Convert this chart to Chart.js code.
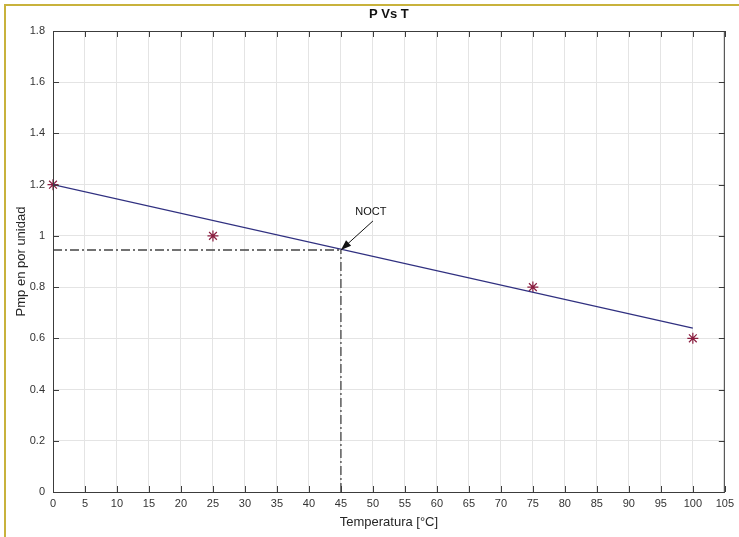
<!DOCTYPE html>
<html>
<head>
<meta charset="utf-8">
<style>
    html, body { margin: 0; padding: 0; background: #fff; }
    canvas { display: block; }
</style>
<script src="https://cdn.jsdelivr.net/npm/chart.js@4/dist/chart.umd.min.js"></script>
</head>
<body>
<canvas id="pvt" width="739" height="537"></canvas>
<script>
// Measured points (temperature, Pmp p.u.)
const tempPoints = [0, 25, 75, 100];
const pmpPoints = [1.2, 1.0, 0.8, 0.6];

// Fitted line end points
const fitTemp = [0, 100];
const fitPmp = [1.2, 0.64];

// NOCT marker
const noctTemp = 45;
const noctPmp = 0.945;

// Axis ticks
const xTicks = [0, 5, 10, 15, 20, 25, 30, 35, 40, 45, 50, 55, 60, 65, 70, 75, 80, 85, 90, 95, 100, 105];
const yTicks = [0, 0.2, 0.4, 0.6, 0.8, 1, 1.2, 1.4, 1.6, 1.8];

const FONT = '"Liberation Sans", Arial, sans-serif';

function toXY(xs, ys) {
    return xs.map((x, i) => ({ x: x, y: ys[i] }));
}

// Box, inward ticks, titles, NOCT arrow
const decorPlugin = {
    id: 'decor',
    afterDatasetsDraw(chart) {
        const ctx = chart.ctx;
        const a = chart.chartArea;
        const xs = chart.scales.x;
        const ys = chart.scales.y;
        ctx.save();

        // axes box
        ctx.strokeStyle = '#3c3c3c';
        ctx.lineWidth = 1;
        ctx.strokeRect(a.left + 0.5, a.top + 0.5, a.right - a.left - 1, a.bottom - a.top);

        // inward ticks
        ctx.beginPath();
        xTicks.forEach(t => {
            const px = Math.round(xs.getPixelForValue(t)) + 0.5;
            ctx.moveTo(px, a.bottom); ctx.lineTo(px, a.bottom - 6);
            ctx.moveTo(px, a.top); ctx.lineTo(px, a.top + 6);
        });
        yTicks.forEach(t => {
            const py = Math.round(ys.getPixelForValue(t)) + 0.5;
            ctx.moveTo(a.left, py); ctx.lineTo(a.left + 6, py);
            ctx.moveTo(a.right, py); ctx.lineTo(a.right - 6, py);
        });
        ctx.stroke();

        // NOCT label and arrow
        const tx = xs.getPixelForValue(noctTemp);
        const ty = ys.getPixelForValue(noctPmp);
        ctx.fillStyle = '#111';
        ctx.font = '11px ' + FONT;
        ctx.textAlign = 'center';
        ctx.textBaseline = 'middle';
        ctx.fillText('NOCT', tx + 30, ty - 38);

        const sx = tx + 32, sy = ty - 29;
        const ang = Math.atan2(ty - sy, tx - sx);
        ctx.strokeStyle = '#111';
        ctx.beginPath();
        ctx.moveTo(sx, sy);
        ctx.lineTo(tx, ty);
        ctx.stroke();
        ctx.beginPath();
        ctx.moveTo(tx, ty);
        ctx.lineTo(tx - 11 * Math.cos(ang - 0.35), ty - 11 * Math.sin(ang - 0.35));
        ctx.lineTo(tx - 11 * Math.cos(ang + 0.35), ty - 11 * Math.sin(ang + 0.35));
        ctx.closePath();
        ctx.fill();

        // title
        const cx = (a.left + a.right) / 2;
        ctx.font = 'bold 13px ' + FONT;
        ctx.fillText('P Vs T', cx, 14);

        // axis titles
        ctx.font = '13px ' + FONT;
        ctx.fillStyle = '#262626';
        ctx.fillText('Temperatura [\u00b0C]', cx, 522);
        ctx.translate(21, (a.top + a.bottom) / 2);
        ctx.rotate(-Math.PI / 2);
        ctx.fillText('Pmp en por unidad', 0, 0);
        ctx.restore();

        // page border (top and left)
        ctx.save();
        ctx.strokeStyle = '#c8b23c';
        ctx.lineWidth = 2;
        ctx.beginPath();
        ctx.moveTo(5, 537);
        ctx.lineTo(5, 5);
        ctx.lineTo(739, 5);
        ctx.stroke();
        ctx.restore();
    }
};

const ctx = document.getElementById('pvt').getContext('2d');
const chart = new Chart(ctx, {
    type: 'scatter',
    data: {
        datasets: [{
            label: 'horizontal',
            data: [{ x: 0, y: noctPmp }, { x: noctTemp, y: noctPmp }],
            showLine: true,
            borderColor: '#444',
            borderWidth: 1.3,
            borderDash: [9, 3, 2, 3],
            pointRadius: 0
        }, {
            label: 'vertical',
            data: [{ x: noctTemp, y: 0 }, { x: noctTemp, y: noctPmp }],
            showLine: true,
            borderColor: '#444',
            borderWidth: 1.3,
            borderDash: [9, 3, 2, 3],
            pointRadius: 0
        }, {
            label: 'fit',
            data: toXY(fitTemp, fitPmp),
            showLine: true,
            borderColor: '#303080',
            borderWidth: 1.2,
            pointRadius: 0
        }, {
            label: 'measured',
            data: toXY(tempPoints, pmpPoints),
            showLine: false,
            clip: false,
            pointStyle: 'star',
            pointRadius: 5.5,
            borderColor: '#8a1e40',
            backgroundColor: '#8a1e40',
            borderWidth: 1.2
        }]
    },
    options: {
        responsive: false,
        animation: false,
        layout: {
            padding: { left: 0, right: 11, top: 31, bottom: 0 }
        },
        plugins: {
            legend: { display: false },
            title: { display: false },
            tooltip: { enabled: false }
        },
        scales: {
            x: {
                type: 'linear',
                min: 0,
                max: 105,
                afterBuildTicks: s => { s.ticks = xTicks.map(v => ({ value: v })); },
                afterFit: s => { s.height = 45; },
                grid: { color: '#e4e4e4', drawTicks: false },
                border: { display: false },
                ticks: {
                    padding: 5,
                    color: '#333',
                    font: { family: FONT, size: 11 },
                    maxRotation: 0,
                    autoSkip: false
                }
            },
            y: {
                min: 0,
                max: 1.8,
                afterBuildTicks: s => { s.ticks = yTicks.map(v => ({ value: v })); },
                afterFit: s => { s.width = 53; },
                grid: { color: '#e4e4e4', drawTicks: false },
                border: { display: false },
                ticks: {
                    padding: 8,
                    color: '#333',
                    font: { family: FONT, size: 11 },
                    callback: v => String(+v.toFixed(1))
                }
            }
        }
    },
    plugins: [decorPlugin]
});
</script>
</body>
</html>
